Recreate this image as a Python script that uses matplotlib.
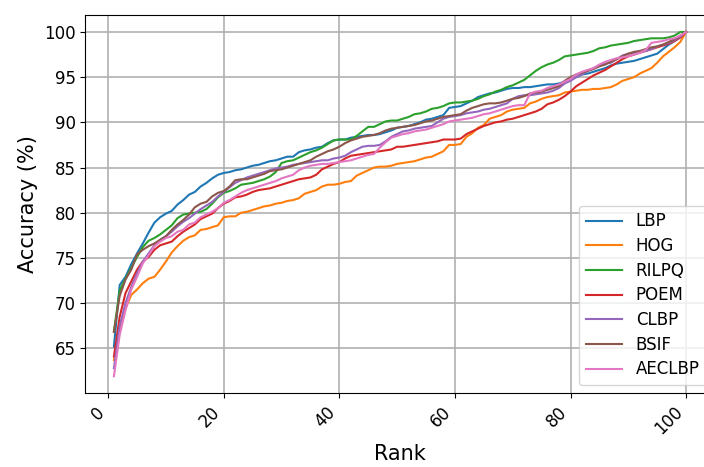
import numpy as np
import matplotlib
matplotlib.use('Agg')
import matplotlib.pyplot as plt

ranks = np.arange(1, 101)

# CMC curves (accuracy in %, ranks 1..100)
lbp = [65.2, 72.0, 72.9, 74.3, 75.5, 76.6, 77.8, 78.9, 79.5, 79.9,
       80.2, 80.9, 81.4, 82.0, 82.3, 82.9, 83.3, 83.8, 84.2, 84.4,
       84.5, 84.7, 84.8, 85.0, 85.2, 85.3, 85.5, 85.7, 85.8, 86.0,
       86.2, 86.2, 86.7, 86.9, 87.0, 87.2, 87.3, 87.7, 88.0, 88.1,
       88.1, 88.3, 88.4, 88.5, 88.6, 88.6, 88.7, 88.9, 89.1, 89.4,
       89.5, 89.6, 89.8, 90.0, 90.3, 90.4, 90.6, 90.8, 91.6, 91.7,
       91.8, 92.1, 92.4, 92.8, 93.0, 93.2, 93.3, 93.5, 93.7, 93.8,
       93.8, 93.9, 93.9, 94.0, 94.1, 94.2, 94.2, 94.3, 94.5, 94.8,
       95.0, 95.3, 95.4, 95.6, 95.8, 96.0, 96.3, 96.5, 96.6, 96.7,
       96.8, 97.0, 97.2, 97.4, 97.6, 98.1, 98.6, 99.0, 99.4, 100.0]

hog = [63.7, 67.0, 69.4, 70.9, 71.5, 72.2, 72.7, 72.9, 73.7, 74.6,
       75.6, 76.3, 76.9, 77.3, 77.5, 78.1, 78.2, 78.4, 78.6, 79.5,
       79.6, 79.6, 80.0, 80.1, 80.3, 80.5, 80.7, 80.8, 81.0, 81.1,
       81.3, 81.4, 81.6, 82.1, 82.3, 82.5, 82.9, 83.1, 83.1, 83.2,
       83.4, 83.5, 84.1, 84.4, 84.7, 85.0, 85.1, 85.1, 85.2, 85.4,
       85.5, 85.6, 85.7, 85.9, 86.1, 86.2, 86.5, 86.8, 87.5, 87.5,
       87.6, 88.4, 88.8, 89.4, 89.7, 90.4, 90.6, 90.8, 91.2, 91.4,
       91.5, 91.6, 92.1, 92.3, 92.6, 92.8, 92.9, 93.0, 93.3, 93.4,
       93.5, 93.6, 93.6, 93.7, 93.7, 93.8, 93.9, 94.2, 94.6, 94.8,
       95.0, 95.4, 95.7, 96.0, 96.6, 97.3, 97.8, 98.3, 98.9, 100.0]

rilpq = [66.9, 71.4, 72.7, 73.9, 75.1, 76.2, 76.9, 77.2, 77.6, 78.1,
         78.6, 79.4, 79.8, 79.9, 80.0, 80.1, 80.4, 81.0, 81.7, 82.2,
         82.4, 82.7, 83.1, 83.2, 83.3, 83.5, 83.7, 84.0, 84.5, 85.5,
         85.7, 85.8, 86.1, 86.4, 86.7, 86.9, 87.2, 87.6, 88.0, 88.1,
         88.1, 88.1, 88.5, 89.0, 89.5, 89.5, 89.8, 90.1, 90.2, 90.2,
         90.4, 90.6, 90.9, 91.0, 91.2, 91.5, 91.6, 91.8, 92.1, 92.2,
         92.2, 92.3, 92.4, 92.6, 92.9, 93.1, 93.4, 93.6, 93.9, 94.1,
         94.4, 94.7, 95.2, 95.7, 96.1, 96.4, 96.6, 96.9, 97.3, 97.4,
         97.5, 97.6, 97.7, 97.9, 98.2, 98.3, 98.5, 98.6, 98.7, 98.8,
         99.0, 99.1, 99.2, 99.3, 99.3, 99.3, 99.4, 99.6, 100.0, 100.0]

poem = [64.1, 68.5, 71.1, 72.4, 73.7, 74.6, 75.1, 75.9, 76.4, 76.6,
        76.8, 77.4, 77.9, 78.3, 78.7, 79.3, 79.6, 79.9, 80.5, 81.0,
        81.3, 81.7, 81.8, 82.0, 82.3, 82.5, 82.6, 82.7, 82.9, 83.1,
        83.3, 83.5, 83.7, 83.8, 83.9, 84.2, 84.8, 85.1, 85.4, 85.6,
        86.0, 86.3, 86.4, 86.5, 86.6, 86.7, 86.8, 86.9, 87.0, 87.3,
        87.3, 87.4, 87.5, 87.6, 87.7, 87.8, 87.9, 88.1, 88.1, 88.1,
        88.2, 88.7, 89.0, 89.3, 89.6, 89.8, 90.0, 90.1, 90.3, 90.4,
        90.6, 90.8, 91.0, 91.2, 91.5, 92.0, 92.2, 92.5, 92.9, 93.4,
        94.0, 94.4, 94.8, 95.2, 95.5, 95.8, 96.2, 96.6, 97.0, 97.3,
        97.5, 97.7, 97.9, 98.1, 98.3, 98.5, 98.7, 99.0, 99.4, 100.0]

clbp = [62.8, 67.5, 70.0, 71.8, 73.3, 74.6, 75.5, 76.4, 77.0, 77.4,
        77.9, 78.5, 79.0, 79.4, 79.9, 80.4, 80.8, 81.2, 81.8, 82.3,
        82.8, 83.3, 83.6, 83.9, 84.1, 84.3, 84.5, 84.7, 84.9, 85.0,
        85.1, 85.3, 85.4, 85.5, 85.6, 85.7, 85.8, 85.8, 86.0, 86.1,
        86.3, 86.7, 87.0, 87.3, 87.4, 87.4, 87.5, 87.9, 88.4, 88.7,
        89.0, 89.1, 89.3, 89.4, 89.5, 89.6, 90.0, 90.4, 90.6, 90.7,
        90.8, 91.0, 91.1, 91.2, 91.4, 91.5, 91.7, 91.9, 92.1, 92.6,
        92.9, 93.0, 93.0, 93.1, 93.2, 93.3, 93.5, 93.8, 94.3, 94.6,
        95.0, 95.3, 95.7, 96.0, 96.3, 96.5, 96.6, 97.0, 97.4, 97.6,
        97.7, 97.8, 97.9, 98.1, 98.4, 98.6, 98.8, 99.1, 99.5, 100.0]

bsif = [66.8, 70.8, 72.6, 73.7, 75.4, 75.9, 76.3, 76.6, 77.0, 77.4,
        78.1, 78.7, 79.2, 79.8, 80.6, 81.0, 81.2, 81.8, 82.2, 82.4,
        82.9, 83.6, 83.7, 83.7, 83.9, 84.1, 84.3, 84.6, 84.7, 84.8,
        85.0, 85.2, 85.4, 85.6, 85.8, 86.2, 86.5, 86.8, 87.0, 87.3,
        87.7, 88.0, 88.2, 88.4, 88.5, 88.6, 88.8, 89.1, 89.3, 89.4,
        89.5, 89.6, 89.7, 89.9, 90.1, 90.2, 90.4, 90.6, 90.7, 90.8,
        90.9, 91.3, 91.6, 91.8, 92.0, 92.1, 92.1, 92.2, 92.4, 92.6,
        92.7, 92.9, 93.2, 93.3, 93.4, 93.6, 93.8, 94.0, 94.6, 95.0,
        95.3, 95.5, 95.7, 95.9, 96.2, 96.4, 96.7, 97.0, 97.3, 97.6,
        97.8, 97.9, 98.1, 98.3, 98.4, 98.6, 98.9, 99.2, 99.6, 100.0]

aeclbp = [61.9, 66.5, 69.2, 71.5, 72.9, 74.4, 75.3, 76.3, 76.8, 77.2,
          77.4, 77.9, 78.1, 78.7, 78.9, 79.5, 79.8, 80.1, 80.5, 81.1,
          81.4, 81.8, 82.2, 82.5, 82.7, 82.9, 83.1, 83.3, 83.5, 83.8,
          84.0, 84.2, 84.7, 85.0, 85.2, 85.3, 85.4, 85.4, 85.5, 85.6,
          85.7, 85.8, 86.0, 86.2, 86.4, 86.5, 87.2, 87.8, 88.3, 88.5,
          88.7, 88.8, 89.0, 89.1, 89.2, 89.4, 89.6, 89.8, 90.1, 90.2,
          90.3, 90.4, 90.5, 90.7, 90.9, 91.0, 91.2, 91.4, 91.6, 91.8,
          91.9, 91.9, 93.2, 93.4, 93.5, 93.8, 94.0, 94.2, 94.5, 94.8,
          95.3, 95.6, 95.8, 96.0, 96.4, 96.7, 96.9, 97.1, 97.2, 97.3,
          97.5, 97.7, 98.0, 98.8, 98.9, 99.0, 99.2, 99.3, 99.6, 100.0]

labels = ['LBP', 'HOG', 'RILPQ', 'POEM', 'CLBP', 'BSIF', 'AECLBP']
series = [lbp, hog, rilpq, poem, clbp, bsif, aeclbp]

fig = plt.figure(figsize=(7.04, 4.67), dpi=100)
# axes run a little past the right edge (the reference is cropped there)
ax = fig.add_axes([0.1212, 0.1574, 0.894, 0.811])

for name, vals in zip(labels, series):
    ax.plot(ranks, vals, label=name, linewidth=1.5)

ax.grid(True, color='#b0b0b0', linewidth=1.2)
ax.set_axisbelow(True)
ax.set_xlabel('Rank', fontsize=15)
ax.set_ylabel('Accuracy (%)', fontsize=15)
ax.set_yticks([65, 70, 75, 80, 85, 90, 95, 100])
ax.set_xticks([0, 20, 40, 60, 80, 100])
ax.tick_params(labelsize=12)
plt.setp(ax.get_xticklabels(), rotation=45, ha='right')
ax.legend(loc='lower right', fontsize=12, labelspacing=0.4, handlelength=2.2)

fig.savefig('out.png', dpi=100)
